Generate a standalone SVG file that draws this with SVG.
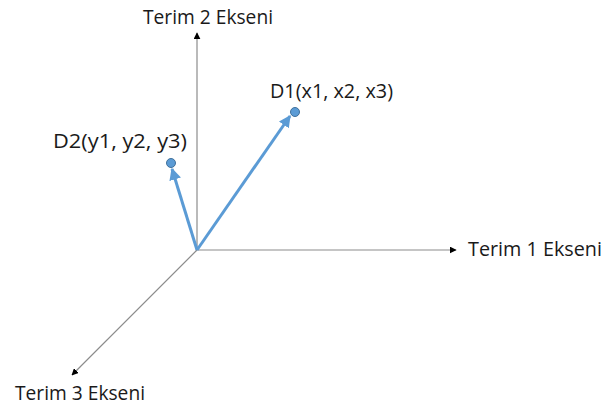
<svg xmlns="http://www.w3.org/2000/svg" width="607" height="408" viewBox="0 0 607 408">
<style>
.lbl{font-family:"Open Sans","Liberation Sans",Arial,sans-serif;font-size:20.5px;fill:#1a1a1a}
.axis{stroke:#8c8c8c;stroke-width:1.2;fill:none}
.vec{stroke:#5b9bd5;stroke-width:3;fill:none}
.dot{fill:#5b9bd5;stroke:#41719c;stroke-width:1}
</style>
<defs>
<marker id="ah" viewBox="0 0 10 10" refX="9" refY="5" markerWidth="7" markerHeight="7" markerUnits="userSpaceOnUse" orient="auto"><path d="M0,0 L10,5 L0,10 z" fill="#000"/></marker>
<marker id="bh" viewBox="0 0 10 10" refX="9" refY="5" markerWidth="4" markerHeight="4" orient="auto"><path d="M0,0 L10,5 L0,10 z" fill="#5b9bd5"/></marker>
</defs>
<rect width="607" height="408" fill="#fff"/>
<g id="connectors">
<line class="axis" x1="197" y1="250" x2="197" y2="33" marker-end="url(#ah)"/>
<line class="axis" x1="197" y1="250" x2="456" y2="250" marker-end="url(#ah)"/>
<line class="axis" x1="197" y1="250" x2="72" y2="375" marker-end="url(#ah)"/>
<line class="vec" x1="197" y1="250" x2="290" y2="116" marker-end="url(#bh)"/>
<line class="vec" x1="197" y1="250" x2="172" y2="169" marker-end="url(#bh)"/>
</g>
<g id="axis2"><text class="lbl" x="143" y="24" textLength="130" lengthAdjust="spacingAndGlyphs">Terim 2 Ekseni</text></g>
<g id="axis1"><text class="lbl" x="468" y="256" textLength="134" lengthAdjust="spacingAndGlyphs">Terim 1 Ekseni</text></g>
<g id="axis3"><text class="lbl" x="15" y="400" textLength="130" lengthAdjust="spacingAndGlyphs">Terim 3 Ekseni</text></g>
<g id="d1"><circle class="dot" cx="295" cy="112" r="4.5"/><text class="lbl" x="270" y="98" textLength="123" lengthAdjust="spacingAndGlyphs">D1(x1, x2, x3)</text></g>
<g id="d2"><circle class="dot" cx="171" cy="163" r="4.5"/><text class="lbl" x="53" y="148" textLength="134" lengthAdjust="spacingAndGlyphs">D2(y1, y2, y3)</text></g>
</svg>
